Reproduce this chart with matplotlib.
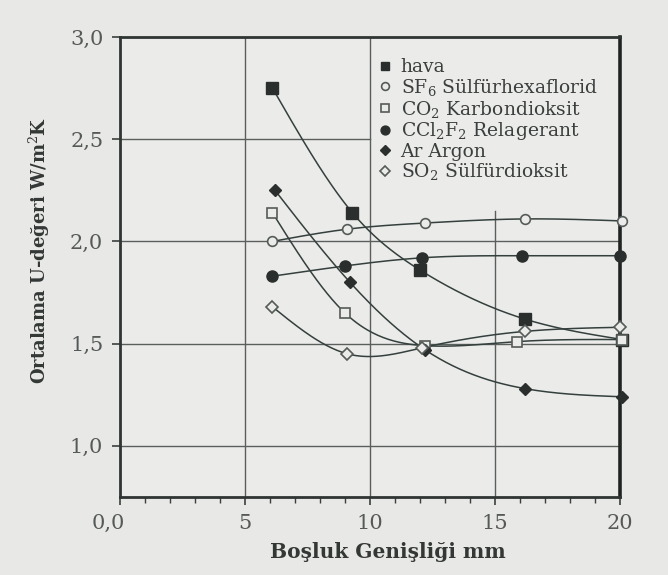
import numpy as np
import matplotlib
matplotlib.use("Agg")
import matplotlib.pyplot as plt
import matplotlib.transforms as mtransforms

# ---- data ----
x_hava = [6.1, 9.3, 12.0, 16.2, 20.1]
y_hava = [2.75, 2.14, 1.86, 1.62, 1.52]

x_sf6 = [6.1, 9.1, 12.2, 16.2, 20.1]
y_sf6 = [2.00, 2.06, 2.09, 2.11, 2.10]

x_co2 = [6.1, 9.0, 12.2, 15.9, 20.1]
y_co2 = [2.14, 1.65, 1.49, 1.51, 1.52]

x_ccl = [6.1, 9.0, 12.1, 16.1, 20.0]
y_ccl = [1.83, 1.88, 1.92, 1.93, 1.93]

x_ar = [6.2, 9.2, 12.2, 16.2, 20.1]
y_ar = [2.25, 1.80, 1.47, 1.28, 1.24]

x_so2 = [6.1, 9.1, 12.1, 16.2, 20.0]
y_so2 = [1.68, 1.45, 1.48, 1.56, 1.58]

labels = [r"hava",
          r"SF$_6$ Sülfürhexaflorid",
          r"CO$_2$ Karbondioksit",
          r"CCl$_2$F$_2$ Relagerant",
          r"Ar Argon",
          r"SO$_2$ Sülfürdioksit"]

x_ticks = [0, 5, 10, 15, 20]
x_ticklabels = ["0,0", "5", "10", "15", "20"]
y_ticks = [1.0, 1.5, 2.0, 2.5, 3.0]
y_ticklabels = ["1,0", "1,5", "2,0", "2,5", "3,0"]


def natural_spline(x, y, xs):
    x = np.asarray(x, float); y = np.asarray(y, float)
    n = len(x)
    h = np.diff(x)
    A = np.zeros((n, n)); b = np.zeros(n)
    A[0, 0] = 1; A[-1, -1] = 1
    for i in range(1, n - 1):
        A[i, i - 1] = h[i - 1]
        A[i, i] = 2 * (h[i - 1] + h[i])
        A[i, i + 1] = h[i]
        b[i] = 6 * ((y[i + 1] - y[i]) / h[i] - (y[i] - y[i - 1]) / h[i - 1])
    M = np.linalg.solve(A, b)
    out = np.empty_like(xs)
    for k, xv in enumerate(xs):
        i = min(max(np.searchsorted(x, xv) - 1, 0), n - 2)
        t1 = x[i + 1] - xv; t2 = xv - x[i]
        out[k] = (M[i] * t1 ** 3 + M[i + 1] * t2 ** 3) / (6 * h[i]) \
            + (y[i] / h[i] - M[i] * h[i] / 6) * t1 \
            + (y[i + 1] / h[i] - M[i + 1] * h[i] / 6) * t2
    return out


plt.rcParams['font.family'] = ['DejaVu Serif', 'Liberation Serif']
plt.rcParams['mathtext.fontset'] = 'dejavuserif'

bg = '#e8e8e6'
axbg = '#ebebea'
lc = '#34403d'
gc = '#5a5f5c'

fig = plt.figure(figsize=(6.68, 5.75), dpi=100, facecolor=bg)
ax = fig.add_axes([0.1796, 0.1357, 0.7485, 0.8000], facecolor=axbg)
ax.set_xlim(0, 20)
ax.set_ylim(0.75, 3.0)

# grid lines (partially hidden behind legend area)
for yv in [1.0, 1.5, 2.0]:
    ax.axhline(yv, color=gc, lw=1.0, zorder=1)
ax.axhline(2.5, xmin=0, xmax=0.5, color=gc, lw=1.0, zorder=1)
ax.axvline(5, color=gc, lw=1.0, zorder=1)
ax.axvline(10, color=gc, lw=1.0, zorder=1)
ax.axvline(15, ymin=0, ymax=(2.15 - 0.75) / 2.25, color=gc, lw=1.0, zorder=1)

series = [
    (x_hava, y_hava, dict(marker='s', mfc='#2a2f2e', mec='#2a2f2e', ms=8)),
    (x_sf6, y_sf6, dict(marker='o', mfc=axbg, mec='#555b58', ms=7, mew=1.2)),
    (x_co2, y_co2, dict(marker='s', mfc=axbg, mec='#555b58', ms=7.5, mew=1.2)),
    (x_ccl, y_ccl, dict(marker='o', mfc='#2a2f2e', mec='#2a2f2e', ms=8)),
    (x_ar, y_ar, dict(marker='D', mfc='#2a2f2e', mec='#2a2f2e', ms=6.5)),
    (x_so2, y_so2, dict(marker='D', mfc=axbg, mec='#555b58', ms=6.5, mew=1.2)),
]

handles = []
for (xs, ys, mk), lab in zip(series, labels):
    xx = np.linspace(xs[0], xs[-1], 200)
    ax.plot(xx, natural_spline(xs, ys, xx), color=lc, lw=1.1, zorder=2)
    h, = ax.plot(xs, ys, ls='none', zorder=4, label=lab, clip_on=False, **mk)
    handles.append(h)

leg = ax.legend(handles=handles, loc='upper left', bbox_to_anchor=(0.49, 0.982),
                frameon=False, fontsize=13.5, handlelength=0.7,
                handletextpad=0.5, labelspacing=0.03, borderaxespad=0.3,
                markerscale=0.8)
for t in leg.get_texts():
    t.set_color('#3a3f3d')

ax.set_xticks(x_ticks)
ax.set_xticklabels(x_ticklabels)
ax.set_xticks(np.arange(0, 21, 1), minor=True)
ax.set_yticks(y_ticks)
ax.set_yticklabels(y_ticklabels)
ax.tick_params(axis='both', direction='out', colors='#3a3f3d', labelcolor='#555a58',
               labelsize=15, length=6, width=1.2)
ax.tick_params(axis='x', which='minor', direction='out', length=4, width=1.0,
               colors='#3a3f3d')
ax.tick_params(axis='y', which='minor', left=False)
ax.tick_params(axis='y', pad=6)
ax.tick_params(axis='x', pad=6)

# shift the "0,0" label slightly left as in the reference
lbl0 = ax.get_xticklabels()[0]
lbl0.set_transform(lbl0.get_transform() +
                   mtransforms.ScaledTranslation(-12 / 100, 0, fig.dpi_scale_trans))

for s in ['left', 'bottom', 'top']:
    ax.spines[s].set_linewidth(2.0)
    ax.spines[s].set_color('#2f3533')
ax.spines['right'].set_linewidth(2.6)
ax.spines['right'].set_color('#1f2422')

ax.set_xlabel("Boşluk Genişliği mm", fontsize=14.5, fontweight='bold',
              color='#333836')
ax.set_ylabel(r"Ortalama U-değeri W/m$^2$K", fontsize=13, fontweight='bold',
              color='#333836')
ax.xaxis.set_label_coords(0.535, -0.098)
ax.yaxis.set_label_coords(-0.135, 0.537)

fig.savefig("out.png", dpi=100, facecolor=bg)
